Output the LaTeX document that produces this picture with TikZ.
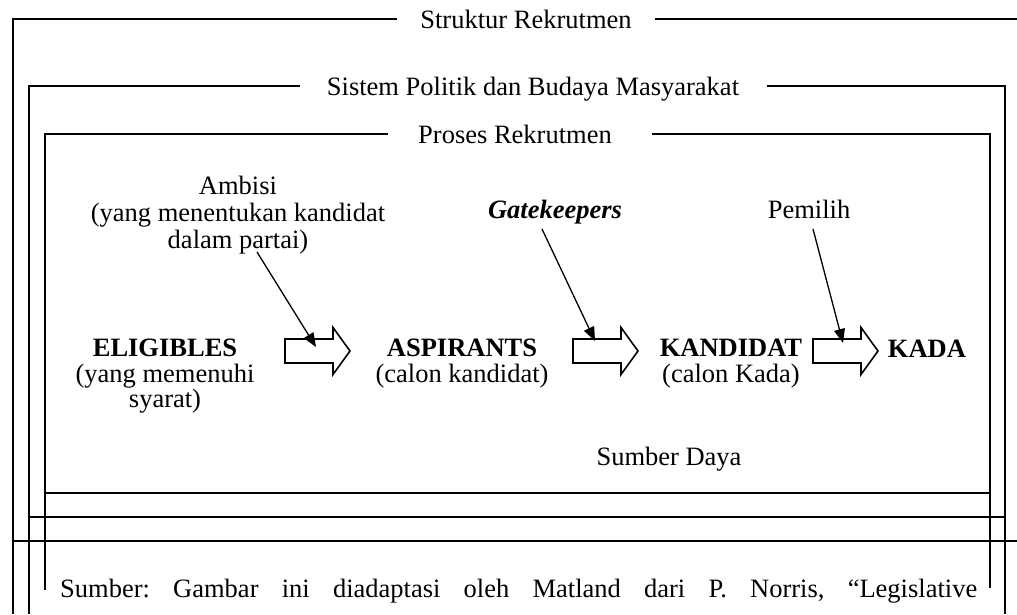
\documentclass[tikz,border=0pt]{standalone}
\usepackage{fontspec}
\setmainfont{Liberation Serif}
\usetikzlibrary{arrows.meta}
\newcommand\blkarrow[3]{% name, left x, centre y
  \draw[blk] (#2,#3-12) -- (#2+48,#3-12) -- (#2+48,#3-23.5) -- (#2+65,#3)
    -- (#2+48,#3+23.5) -- (#2+48,#3+12) -- (#2,#3+12) -- cycle;
  \coordinate (#1) at (#2+32,#3);}
\begin{document}
\begin{tikzpicture}[x=1pt,y=-1pt,
  frame/.style={line width=1.6pt, line join=miter},
  lbl/.style={inner sep=0pt, font=\fontsize{26.5}{27}\selectfont},
  blk/.style={draw, line width=1.6pt, fill=white, line join=miter},
  ptr/.style={line width=1.3pt, -{Triangle[length=14pt,width=11pt]}}]
\useasboundingbox (0,0) rectangle (1017,614);

% frames
\node[lbl, anchor=base] (t1) at (526,28) {Struktur Rekrutmen};
\draw[frame] (397,19) -- (13,19) -- (13,614);
\draw[frame] (655,19) -- (1017,19);
\draw[frame] (13,541) -- (1017,541);

\node[lbl, anchor=base] (t2) at (533,95) {Sistem Politik dan Budaya Masyarakat};
\draw[frame] (300,86) -- (29,86) -- (29,614);
\draw[frame] (767,86) -- (1005,86) -- (1005,614);
\draw[frame] (29,517) -- (1005,517);

\node[lbl, anchor=base] (t3) at (515,143) {Proses Rekrutmen};
\draw[frame] (388,134) -- (45,134) -- (45,590);
\draw[frame] (652,134) -- (990,134) -- (990,588);
\draw[frame] (45,493) -- (990,493);

% labels
\node[lbl, align=center, anchor=north] (amb) at (238,176)
  {Ambisi\\(yang menentukan kandidat\\dalam partai)};
\node[lbl, anchor=base] (gk) at (555,218) {\textbf{\textit{Gatekeepers}}};
\node[lbl, anchor=base] (pem) at (809,218) {Pemilih};

\node[lbl, align=center, anchor=north, font=\fontsize{26.5}{25.5}\selectfont] (elig) at (165,339)
  {\textbf{ELIGIBLES}\\(yang memenuhi\\syarat)};
\node[lbl, align=center, anchor=north, font=\fontsize{26.5}{25.5}\selectfont] (asp) at (462,339)
  {\textbf{ASPIRANTS}\\(calon kandidat)};
\node[lbl, align=center, anchor=north, font=\fontsize{26.5}{25.5}\selectfont] (kand) at (731,339)
  {\textbf{KANDIDAT}\\(calon Kada)};
\node[lbl, anchor=base] (kada) at (927,357) {\textbf{KADA}};

\node[lbl, anchor=base] (sd) at (669,465) {Sumber Daya};

% block arrows
\blkarrow{b1}{285}{351}
\blkarrow{b2}{573}{351}
\blkarrow{b3}{813}{351}

% pointer arrows
\coordinate (a1s) at (257,252); \coordinate (a1e) at (316,347);
\coordinate (a2s) at (542,229); \coordinate (a2e) at (595,341);
\coordinate (a3s) at (813,229); \coordinate (a3e) at (843,343);
\draw[ptr] (a1s) -- (a1e);
\draw[ptr] (a2s) -- (a2e);
\draw[ptr] (a3s) -- (a3e);

% source line
\node[lbl, anchor=base west] (src) at (60,597)
  {\hbox to 917pt{Sumber:\hfill Gambar\hfill ini\hfill diadaptasi\hfill oleh\hfill Matland\hfill dari\hfill P.\hfill Norris,\hfill “Legislative}};
\end{tikzpicture}
\end{document}
